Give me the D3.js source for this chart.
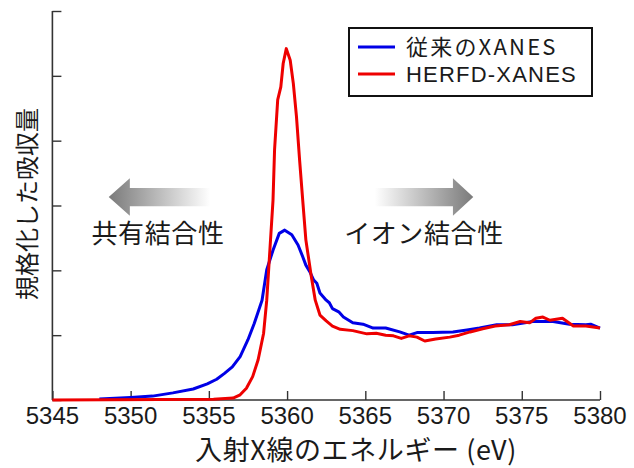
<!DOCTYPE html>
<html>
<head>
<meta charset="utf-8">
<script src="https://cdn.jsdelivr.net/npm/d3@7"></script>
<style>
  html, body { margin: 0; padding: 0; background: #fff; }
  svg { display: block; }
  .jp { font-family: "Noto Sans CJK JP", "Noto Sans", sans-serif; fill: #1a1a1a; }
  .num { font-family: "Liberation Sans", Arial, sans-serif; fill: #1a1a1a; }
</style>
</head>
<body>
<svg id="chart" width="634" height="468"></svg>
<script>
// Incident energy (eV) and normalized absorption, conventional XANES
const convEnergy = [5348.0, 5350.0, 5351.4, 5352.7, 5354.0, 5354.9, 5355.5, 5356.0, 5356.5, 5357.0,
  5357.5, 5357.9, 5358.4, 5358.7, 5359.1, 5359.5, 5359.85, 5360.3, 5360.7, 5361.0,
  5361.2, 5361.45, 5361.7, 5361.9, 5362.1, 5362.5, 5362.7, 5362.9, 5363.3, 5363.6,
  5364.2, 5364.85, 5365.5, 5366.3, 5367.2, 5367.8, 5368.3, 5369.3, 5370.6, 5371.5,
  5372.3, 5373.4, 5374.4, 5375.7, 5377.0, 5378.05, 5379.1, 5379.4, 5380.0];
const convValue = [0.015, 0.04, 0.06, 0.11, 0.17, 0.25, 0.32, 0.41, 0.51, 0.67,
  0.93, 1.18, 1.54, 2.01, 2.31, 2.57, 2.62, 2.55, 2.39, 2.21,
  2.08, 1.98, 1.85, 1.80, 1.65, 1.54, 1.50, 1.41, 1.36, 1.28,
  1.19, 1.17, 1.11, 1.11, 1.05, 1.00, 1.04, 1.04, 1.05, 1.08,
  1.11, 1.16, 1.16, 1.21, 1.21, 1.17, 1.16, 1.17, 1.11];

// Incident energy (eV) and normalized absorption, HERFD-XANES
const herfdEnergy = [5345.0, 5355.3, 5356.55, 5357.0, 5357.4, 5357.8, 5358.15, 5358.5, 5358.7, 5358.9,
  5359.1, 5359.2, 5359.4, 5359.6, 5359.75, 5359.95, 5360.2, 5360.4, 5360.6, 5360.8,
  5361.0, 5361.2, 5361.55, 5361.8, 5362.1, 5362.5, 5362.9, 5363.4, 5364.2, 5365.1,
  5365.7, 5366.3, 5366.8, 5367.3, 5367.8, 5368.3, 5368.8, 5369.5, 5370.4, 5371.0,
  5371.7, 5372.5, 5373.3, 5374.2, 5374.9, 5375.5, 5375.9, 5376.35, 5376.8, 5377.6,
  5378.3, 5379.1, 5380.0];
const herfdValue = [0.0, 0.01, 0.03, 0.08, 0.18, 0.36, 0.62, 1.03, 1.54, 2.31,
  3.08, 3.86, 4.63, 4.83, 5.19, 5.42, 5.24, 4.88, 4.37, 3.70,
  3.08, 2.47, 1.90, 1.54, 1.31, 1.22, 1.14, 1.09, 1.07, 1.02,
  1.03, 1.00, 0.99, 0.95, 0.99, 0.97, 0.91, 0.94, 0.97, 1.00,
  1.05, 1.10, 1.14, 1.16, 1.21, 1.19, 1.26, 1.28, 1.23, 1.26,
  1.14, 1.14, 1.11];

const xTicks = [5345, 5350, 5355, 5360, 5365, 5370, 5375, 5380];
const yTicks = [0, 1, 2, 3, 4, 5, 6];

const seriesNames = ["従来のXANES", "HERFD-XANES"];
const seriesColors = ["#0000e6", "#ee0000"];

const xTitle = "入射X線のエネルギー (eV)";
const yTitle = "規格化した吸収量";
const leftLabel = "共有結合性";
const rightLabel = "イオン結合性";

const svg = d3.select("#chart");

const x = d3.scaleLinear().domain([5345, 5380]).range([52.4, 600]);
const y = d3.scaleLinear().domain([0, 6]).range([400, 11]);

// Gradients for the two direction arrows
const defs = svg.append("defs");
const gl = defs.append("linearGradient").attr("id", "gradLeft")
  .attr("x1", "0%").attr("x2", "100%").attr("y1", "0%").attr("y2", "0%");
gl.append("stop").attr("offset", "0%").attr("stop-color", "#7a7a7a");
gl.append("stop").attr("offset", "100%").attr("stop-color", "#ffffff");
const gr = defs.append("linearGradient").attr("id", "gradRight")
  .attr("x1", "0%").attr("x2", "100%").attr("y1", "0%").attr("y2", "0%");
gr.append("stop").attr("offset", "0%").attr("stop-color", "#ffffff");
gr.append("stop").attr("offset", "100%").attr("stop-color", "#7a7a7a");

// Axes: ticks point inward, no labels on the y axis
const axisColor = "#333";
const gx = svg.append("g").attr("transform", `translate(0,${y(0)})`)
  .call(d3.axisTop(x).tickValues(xTicks).tickSize(9).tickFormat(""));
const gy = svg.append("g").attr("transform", `translate(${x(5345)},0)`)
  .call(d3.axisRight(y).tickValues(yTicks).tickSize(9).tickFormat(""));
[gx, gy].forEach(g => {
  g.select(".domain").attr("stroke", axisColor).attr("stroke-width", 1.6);
  g.selectAll(".tick line").attr("stroke", axisColor).attr("stroke-width", 1.4);
});
gx.select(".domain").attr("d", `M${x(5345)},0H${x(5380)}`);
gy.select(".domain").attr("d", `M0,${y(6)}V${y(0)}`);

svg.append("g").selectAll("text").data(xTicks).join("text")
  .attr("class", "num")
  .attr("x", d => x(d)).attr("y", 424)
  .attr("text-anchor", "middle")
  .attr("font-size", 24)
  .text(d => d);

// Axis titles
svg.append("text").attr("class", "jp")
  .attr("x", 356).attr("y", 460)
  .attr("text-anchor", "middle").attr("font-size", 27)
  .attr("letter-spacing", 0.6)
  .text(xTitle);
svg.append("text").attr("class", "jp")
  .attr("transform", "translate(25,204) rotate(-90)")
  .attr("text-anchor", "middle").attr("dominant-baseline", "central")
  .attr("font-size", 24)
  .text(yTitle);

// Direction arrows with labels (positions in data units)
const arrowHalfBody = 0.14, arrowHalfHead = 0.29, arrowY = 3.13;
function arrowPath(tail, back, tip) {
  const yb1 = y(arrowY + arrowHalfBody), yb2 = y(arrowY - arrowHalfBody);
  const yh1 = y(arrowY + arrowHalfHead), yh2 = y(arrowY - arrowHalfHead);
  return `M${x(tail)},${yb1}L${x(back)},${yb1}L${x(back)},${yh1}L${x(tip)},${y(arrowY)}` +
         `L${x(back)},${yh2}L${x(back)},${yb2}L${x(tail)},${yb2}Z`;
}
svg.append("path").attr("d", arrowPath(5355.1, 5349.95, 5348.6)).attr("fill", "url(#gradLeft)");
svg.append("path").attr("d", arrowPath(5365.6, 5370.6, 5371.9)).attr("fill", "url(#gradRight)");

svg.append("text").attr("class", "jp")
  .attr("x", x(5351.75)).attr("y", y(2.6))
  .attr("text-anchor", "middle").attr("dominant-baseline", "central")
  .attr("font-size", 26).attr("letter-spacing", 0.6).text(leftLabel);
svg.append("text").attr("class", "jp")
  .attr("x", x(5368.75)).attr("y", y(2.6))
  .attr("text-anchor", "middle").attr("dominant-baseline", "central")
  .attr("font-size", 26).attr("letter-spacing", 0.6).text(rightLabel);

// Spectra
const line = d3.line().x(d => x(d[0])).y(d => y(d[1]));
const convData = convEnergy.map((e, i) => [e, convValue[i]]);
const herfdData = herfdEnergy.map((e, i) => [e, herfdValue[i]]);
[convData, herfdData].forEach((data, i) => {
  svg.append("path").datum(data)
    .attr("fill", "none")
    .attr("stroke", seriesColors[i])
    .attr("stroke-width", 3)
    .attr("stroke-linejoin", "round")
    .attr("d", line);
});

// Legend: the all-Latin entry uses a compact Latin face
const legend = svg.append("g").attr("transform", "translate(349,28)");
legend.append("rect").attr("width", 243).attr("height", 68)
  .attr("fill", "#fff").attr("stroke", "#111").attr("stroke-width", 2);
seriesNames.forEach((name, i) => {
  const row = legend.append("g").attr("transform", `translate(0,${19 + i * 27})`);
  row.append("line").attr("x1", 9).attr("x2", 46).attr("y1", 0).attr("y2", 0)
    .attr("stroke", seriesColors[i]).attr("stroke-width", 3);
  row.append("text").attr("class", i === 0 ? "jp" : "num")
    .attr("x", 57).attr("y", 8)
    .attr("font-size", 22).attr("letter-spacing", i === 0 ? 2.2 : 1.2)
    .text(name);
});
</script>
</body>
</html>
